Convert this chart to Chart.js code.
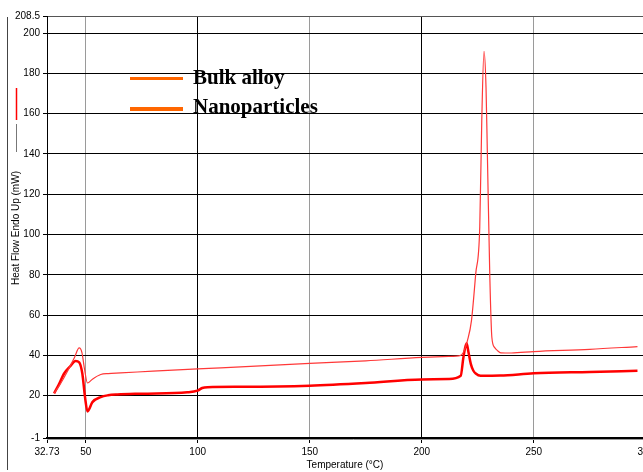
<!DOCTYPE html>
<html>
<head>
<meta charset="utf-8">
<script src="https://cdn.jsdelivr.net/npm/chart.js@4/dist/chart.umd.min.js"></script>
<style>
    html, body { margin: 0; padding: 0; overflow: hidden; background: #fff; }
    #wrap { position: relative; width: 643px; height: 472px; overflow: hidden; }
    .legLine { position: absolute; left: 130px; width: 53px; background: #ff6600; }
    .legText { position: absolute; left: 193px; font: bold 21px "Liberation Serif", "Times New Roman", serif; line-height: 21px; color: #000; white-space: nowrap; }
</style>
</head>
<body>
<div id="wrap">
    <canvas id="dscChart" width="660" height="472"></canvas>
    <div class="legLine" style="top:77px;height:3px"></div>
    <div class="legText" style="top:67px">Bulk alloy</div>
    <div class="legLine" style="top:107px;height:4px"></div>
    <div class="legText" style="top:96px">Nanoparticles</div>
</div>
<script>
// Bulk alloy curve (temperature in °C, heat flow in mW)
const bulkT  = [35.9, 38.5, 42, 45, 47.1, 48.3, 49.5, 50.8, 53, 56.7, 60, 65.6, 80, 100, 110.3, 150, 175, 200, 212, 217.4, 219, 220.4, 222.2, 224.1, 225.9, 226.8, 227.8, 228.7, 229.3, 230.4, 231.3, 232.5, 233.8, 235.3, 240, 250, 275, 296.3];
const bulkHF = [21.2, 25.5, 32.4, 39, 43.7, 41.5, 33, 26.3, 28.2, 30.5, 31, 31.3, 32.2, 33.3, 33.8, 36, 37.3, 39, 39.5, 40, 42.5, 47.3, 57.3, 80.5, 103.7, 156.7, 191, 173, 140, 78.8, 49, 44, 42.4, 41.3, 41.2, 41.9, 43, 44.4];

// Nanoparticles curve
const nanoT  = [35.9, 38, 40.3, 43, 45.5, 47.1, 48.5, 49.7, 50.8, 53, 56.7, 60, 64.2, 75, 95.4, 99.9, 102, 104.4, 120, 150, 175, 200, 212, 217.4, 218.6, 220, 220.8, 221.9, 223, 224.1, 226.3, 235, 250, 275, 296.3];
const nanoHF = [21.2, 25.5, 30.9, 34.5, 37.2, 36.6, 31, 19.3, 12.2, 16.8, 19.3, 20.2, 20.6, 21, 21.7, 22.5, 23.8, 24.2, 24.4, 25, 26.3, 28, 28.3, 29.9, 39, 46, 42, 35.8, 32.5, 31, 29.9, 30, 31.1, 31.8, 32.4];

// Axis ticks as printed on the instrument plot
const xTicks = [32.73, 50, 100, 150, 200, 250, 300];
const yTicks = [-1, 20, 40, 60, 80, 100, 120, 140, 160, 180, 200, 208.5];

const toPoints = (xs, ys) => xs.map((x, i) => ({ x: x, y: ys[i] }));

const tickFont = { family: '"Liberation Sans Narrow", "Liberation Sans", Arial, sans-serif', size: 10 };

// Extra decorations: frame line, axis titles, series marks beside the y title
const extras = {
    id: 'extras',
    afterDraw(chart) {
        const ctx = chart.ctx;
        const area = chart.chartArea;
        ctx.save();

        // second line under the x axis
        ctx.strokeStyle = '#999';
        ctx.lineWidth = 1;
        ctx.beginPath();
        ctx.moveTo(area.left, area.bottom + 1.5);
        ctx.lineTo(chart.width, area.bottom + 1.5);
        ctx.stroke();

        // left frame line
        ctx.strokeStyle = '#444';
        ctx.beginPath();
        ctx.moveTo(7.5, 17);
        ctx.lineTo(7.5, 470);
        ctx.stroke();

        // little series marks next to the y title
        ctx.strokeStyle = '#ff0000';
        ctx.lineWidth = 1.5;
        ctx.beginPath();
        ctx.moveTo(16.5, 88);
        ctx.lineTo(16.5, 120);
        ctx.stroke();
        ctx.strokeStyle = '#777';
        ctx.lineWidth = 1;
        ctx.beginPath();
        ctx.moveTo(16.5, 124);
        ctx.lineTo(16.5, 152);
        ctx.stroke();

        // x axis title
        ctx.fillStyle = '#000';
        ctx.font = '10px "Liberation Sans Narrow", "Liberation Sans", Arial, sans-serif';
        ctx.textAlign = 'center';
        ctx.textBaseline = 'middle';
        ctx.fillText('Temperature (°C)', 345, 465);

        // y axis title
        ctx.translate(16, 228);
        ctx.rotate(-Math.PI / 2);
        ctx.font = '10px "Liberation Sans", Arial, sans-serif';
        ctx.fillText('Heat Flow Endo Up (mW)', 0, 0);
        ctx.restore();
    }
};

const ctx = document.getElementById('dscChart').getContext('2d');
const dscChart = new Chart(ctx, {
    type: 'line',
    data: {
        datasets: [{
            label: 'Bulk alloy',
            data: toPoints(bulkT, bulkHF),
            borderColor: '#ff3838',
            borderWidth: 1.2,
            pointRadius: 0,
            cubicInterpolationMode: 'monotone',
            fill: false
        }, {
            label: 'Nanoparticles',
            data: toPoints(nanoT, nanoHF),
            borderColor: '#ff0000',
            borderWidth: 2.5,
            pointRadius: 0,
            cubicInterpolationMode: 'monotone',
            fill: false
        }]
    },
    options: {
        responsive: false,
        animation: false,
        devicePixelRatio: 1,
        layout: { padding: { left: 0, right: 12, top: 16, bottom: 0 } },
        plugins: { legend: { display: false }, tooltip: { enabled: false } },
        scales: {
            x: {
                type: 'linear',
                min: 32.73,
                max: 301,
                afterBuildTicks: s => { s.ticks = xTicks.map(v => ({ value: v })); },
                afterFit: s => { s.height = 34; },
                ticks: { autoSkip: false, maxRotation: 0, padding: 3, color: '#000', font: tickFont, callback: v => String(v) },
                grid: {
                    color: c => (c.tick && (c.tick.value === 100 || c.tick.value === 200 || c.tick.value === 32.73)) ? '#000' : '#9a9a9a',
                    tickColor: '#000',
                    tickLength: 5,
                    lineWidth: 1
                },
                border: { color: '#000', width: 2 }
            },
            y: {
                min: -1,
                max: 208.5,
                afterBuildTicks: s => { s.ticks = yTicks.map(v => ({ value: v })); },
                afterFit: s => { s.width = 47; },
                ticks: { padding: 3, color: '#000', font: tickFont, callback: v => String(v) },
                grid: {
                    color: c => (c.tick && c.tick.value === 208.5) ? '#555' : '#000',
                    tickColor: '#000',
                    tickLength: 4,
                    lineWidth: 1
                },
                border: { color: '#000', width: 1 }
            }
        }
    },
    plugins: [extras]
});
</script>
</body>
</html>
